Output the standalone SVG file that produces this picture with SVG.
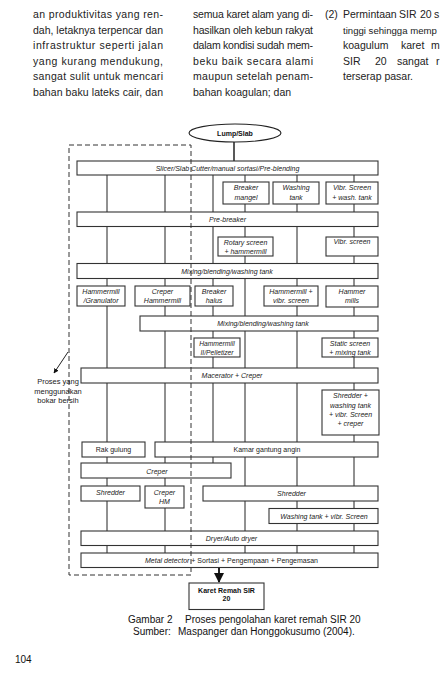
<svg xmlns="http://www.w3.org/2000/svg" width="441" height="683" viewBox="0 0 441 683">
<defs>
<style>
.body{font-family:"Liberation Sans",Arial,sans-serif;font-size:10.5px;fill:#222}
.cap{font-family:"Liberation Sans",Arial,sans-serif;font-size:10px;fill:#111}
.box{fill:#fff;stroke:#333;stroke-width:1.1}
.t{font-family:"Liberation Sans",Arial,sans-serif;font-size:7px;font-style:italic;text-anchor:middle;fill:#222}
.u{font-family:"Liberation Sans",Arial,sans-serif;font-size:7px;text-anchor:middle;fill:#222}
.b{font-family:"Liberation Sans",Arial,sans-serif;font-size:7px;font-weight:bold;text-anchor:middle;fill:#111}
.ln{stroke:#222;stroke-width:1;fill:none}
.dash{stroke:#333;stroke-width:1;fill:none;stroke-dasharray:5,3}
</style>
<marker id="ah" viewBox="0 0 10 10" refX="9" refY="5" markerWidth="5" markerHeight="5" orient="auto">
<path d="M0,0 L10,5 L0,10 z" fill="#111"/>
</marker>
</defs>
<rect width="441" height="683" fill="#fff"/>

<g id="page-text">
<text class="body" x="33" y="18" textLength="130" lengthAdjust="spacing">an produktivitas yang ren-</text>
<text class="body" x="33" y="33.5" textLength="130" lengthAdjust="spacing">dah, letaknya terpencar dan</text>
<text class="body" x="33" y="49" textLength="130" lengthAdjust="spacing">infrastruktur seperti jalan</text>
<text class="body" x="33" y="64.5" textLength="130" lengthAdjust="spacing">yang kurang mendukung,</text>
<text class="body" x="33" y="80" textLength="130" lengthAdjust="spacing">sangat sulit untuk mencari</text>
<text class="body" x="33" y="95.5" textLength="130" lengthAdjust="spacing">bahan baku lateks cair, dan</text>
<text class="body" x="193" y="18" textLength="120" lengthAdjust="spacing">semua karet alam yang di-</text>
<text class="body" x="193" y="33.5" textLength="120" lengthAdjust="spacing">hasilkan oleh kebun rakyat</text>
<text class="body" x="193" y="49" textLength="120" lengthAdjust="spacing">dalam kondisi sudah mem-</text>
<text class="body" x="193" y="64.5" textLength="120" lengthAdjust="spacing">beku baik secara alami</text>
<text class="body" x="193" y="80" textLength="120" lengthAdjust="spacing">maupun setelah penam-</text>
<text class="body" x="193" y="95.5">bahan koagulan; dan</text>
<text class="body" y="18"><tspan x="325">(2)</tspan><tspan x="343">Permintaan</tspan><tspan x="399">SIR</tspan><tspan x="420">20</tspan><tspan x="434">s</tspan></text>
<text class="body" x="343" y="33.5" style="font-size:9.6px">tinggi sehingga memp</text>
<text class="body" y="49"><tspan x="343">koagulum</tspan><tspan x="401">karet</tspan><tspan x="431">m</tspan></text>
<text class="body" y="64.5"><tspan x="343">SIR</tspan><tspan x="375">20</tspan><tspan x="397">sangat</tspan><tspan x="436">r</tspan></text>
<text class="body" x="343" y="80">terserap pasar.</text>
<text class="cap" x="128" y="623">Gambar 2</text>
<text class="cap" x="185" y="623">Proses pengolahan karet remah SIR 20</text>
<text class="cap" x="133" y="634.5">Sumber:</text>
<text class="cap" x="178" y="634.5">Maspanger dan Honggokusumo (2004).</text>
<text class="cap" x="15" y="663">104</text>
</g>

<g id="connectors">
<line class="ln" x1="107" y1="175" x2="107" y2="553"/>
<line class="ln" x1="165" y1="175" x2="165" y2="553"/>
<line class="ln" x1="213" y1="175" x2="213" y2="470"/>
<line class="ln" x1="245" y1="175" x2="245" y2="553"/>
<line class="ln" x1="297" y1="175" x2="297" y2="553"/>
<line class="ln" x1="354" y1="175" x2="354" y2="553"/>
<line class="ln" x1="234" y1="142" x2="234" y2="161" style="stroke-width:1.5"/>
<line class="ln" x1="219" y1="567" x2="219" y2="582" style="stroke-width:2" marker-end="url(#ah)"/>
<line class="ln" x1="68" y1="352" x2="54" y2="373" marker-end="url(#ah)"/>
</g>

<g id="n-lump"><ellipse cx="235" cy="133" rx="46" ry="9" fill="#fff" stroke="#222" stroke-width="1.1"/><text class="b" x="235" y="135.5">Lump/Slab</text></g>
<g id="n-slicer"><rect class="box" x="77" y="161" width="301" height="14"/><text class="t" x="227.5" y="171">Slicer/Slab Cutter/manual sortasi/Pre-blending</text></g>
<g id="n-breaker-mangel"><rect class="box" x="223" y="182" width="46" height="22"/><text class="t" x="246" y="190">Breaker</text><text class="t" x="246" y="199.5">mangel</text></g>
<g id="n-washing-tank"><rect class="box" x="273" y="182" width="46" height="22"/><text class="t" x="296" y="190">Washing</text><text class="t" x="296" y="199.5">tank</text></g>
<g id="n-vibr-wash"><rect class="box" x="326" y="182" width="52" height="22"/><text class="t" x="352" y="190">Vibr. Screen</text><text class="t" x="352" y="199.5">+ wash. tank</text></g>
<g id="n-prebreaker"><rect class="box" x="77" y="212" width="301" height="14.5"/><text class="t" x="227.5" y="222">Pre-breaker</text></g>
<g id="n-rotary"><rect class="box" x="218" y="237" width="55" height="19"/><text class="t" x="245.5" y="244.5">Rotary screen</text><text class="t" x="245.5" y="253.5">+ hammermill</text></g>
<g id="n-vibr-screen"><rect class="box" x="326" y="237" width="52" height="19"/><text class="t" x="352" y="244">Vibr. screen</text></g>
<g id="n-mixing1"><rect class="box" x="77" y="263.5" width="301" height="15"/><text class="t" x="227" y="273.5">Mixing/blending/washing tank</text></g>
<g id="n-hammer-gran"><rect class="box" x="77" y="286" width="48" height="20"/><text class="t" x="101" y="293.5">Hammermill</text><text class="t" x="101" y="302.5">/Granulator</text></g>
<g id="n-creper-hammer"><rect class="box" x="135" y="286" width="55" height="20"/><text class="t" x="162.5" y="293.5">Creper</text><text class="t" x="162.5" y="302.5">Hammermill</text></g>
<g id="n-breaker-halus"><rect class="box" x="195" y="286" width="38" height="20"/><text class="t" x="214" y="293.5">Breaker</text><text class="t" x="214" y="302.5">halus</text></g>
<g id="n-hammer-vibr"><rect class="box" x="264" y="286" width="54" height="20"/><text class="t" x="291" y="293.5">Hammermill +</text><text class="t" x="291" y="302.5">vibr. screen</text></g>
<g id="n-hammer-mills"><rect class="box" x="326" y="286" width="52" height="21"/><text class="t" x="352" y="293.5">Hammer</text><text class="t" x="352" y="302.5">mills</text></g>
<g id="n-mixing2"><rect class="box" x="140" y="316" width="238" height="15"/><text class="t" x="263" y="326">Mixing/blending/washing tank</text></g>
<g id="n-hammer-pellet"><rect class="box" x="194" y="338" width="46" height="19"/><text class="t" x="217" y="345.5" style="font-size:6.7px">Hammermill</text><text class="t" x="217" y="354.5" style="font-size:6.7px">II/Pelletizer</text></g>
<g id="n-static"><rect class="box" x="322" y="338" width="56" height="19"/><text class="t" x="350" y="345.5">Static screen</text><text class="t" x="350" y="354.5">+ mixing tank</text></g>
<g id="n-macerator"><rect class="box" x="81" y="368" width="297" height="15"/><text class="t" x="232" y="378">Macerator + Creper</text></g>
<g id="n-shredder-wash"><rect class="box" x="322" y="390" width="57" height="45"/><text class="t" x="350.5" y="398">Shredder +</text><text class="t" x="350.5" y="407.5">washing tank</text><text class="t" x="350.5" y="416.5">+ vibr. Screen</text><text class="t" x="350.5" y="425.5">+ creper</text></g>
<g id="n-rak"><rect class="box" x="82" y="442" width="63" height="15"/><text class="u" x="113.5" y="452">Rak gulung</text></g>
<g id="n-kamar"><rect class="box" x="155" y="442" width="223" height="15"/><text class="u" x="267" y="452">Kamar gantung angin</text></g>
<g id="n-creper"><rect class="box" x="81" y="463" width="150" height="15"/><text class="t" x="157" y="473.5">Creper</text></g>
<g id="n-shredder-left"><rect class="box" x="81" y="486" width="59" height="15"/><text class="t" x="110.5" y="494.5">Shredder</text></g>
<g id="n-creper-hm"><rect class="box" x="145" y="486" width="39" height="22"/><text class="t" x="164.5" y="494.5">Creper</text><text class="t" x="164.5" y="503.5">HM</text></g>
<g id="n-shredder-big"><rect class="box" x="203" y="486" width="175" height="15"/><text class="t" x="291.5" y="495.5">Shredder</text></g>
<g id="n-washing-vibr"><rect class="box" x="269" y="508.5" width="109" height="15"/><text class="t" x="324" y="518.5">Washing tank + vibr. Screen</text></g>
<g id="n-dryer"><rect class="box" x="81" y="531" width="297" height="14.5"/><text class="t" x="231.5" y="541">Dryer/Auto dryer</text></g>
<g id="n-metal"><rect class="box" x="81" y="553" width="297" height="14.5"/><text class="u" x="231.5" y="563"><tspan style="font-style:italic">Metal detector</tspan> + Sortasi + Pengempaan + Pengemasan</text></g>
<g id="n-karet"><rect class="box" x="189" y="583" width="75" height="26.5"/><text class="b" x="226.5" y="592.5">Karet Remah SIR</text><text class="b" x="226.5" y="601">20</text></g>

<g id="bokar-region">
<rect class="dash" x="69" y="145" width="122" height="430"/>
<text class="u" x="58" y="384" style="font-size:7.5px">Proses yang</text>
<text class="u" x="58" y="393.5" style="font-size:7.5px">menggunakan</text>
<text class="u" x="58" y="403" style="font-size:7.5px">bokar bersih</text>
</g>
</svg>
